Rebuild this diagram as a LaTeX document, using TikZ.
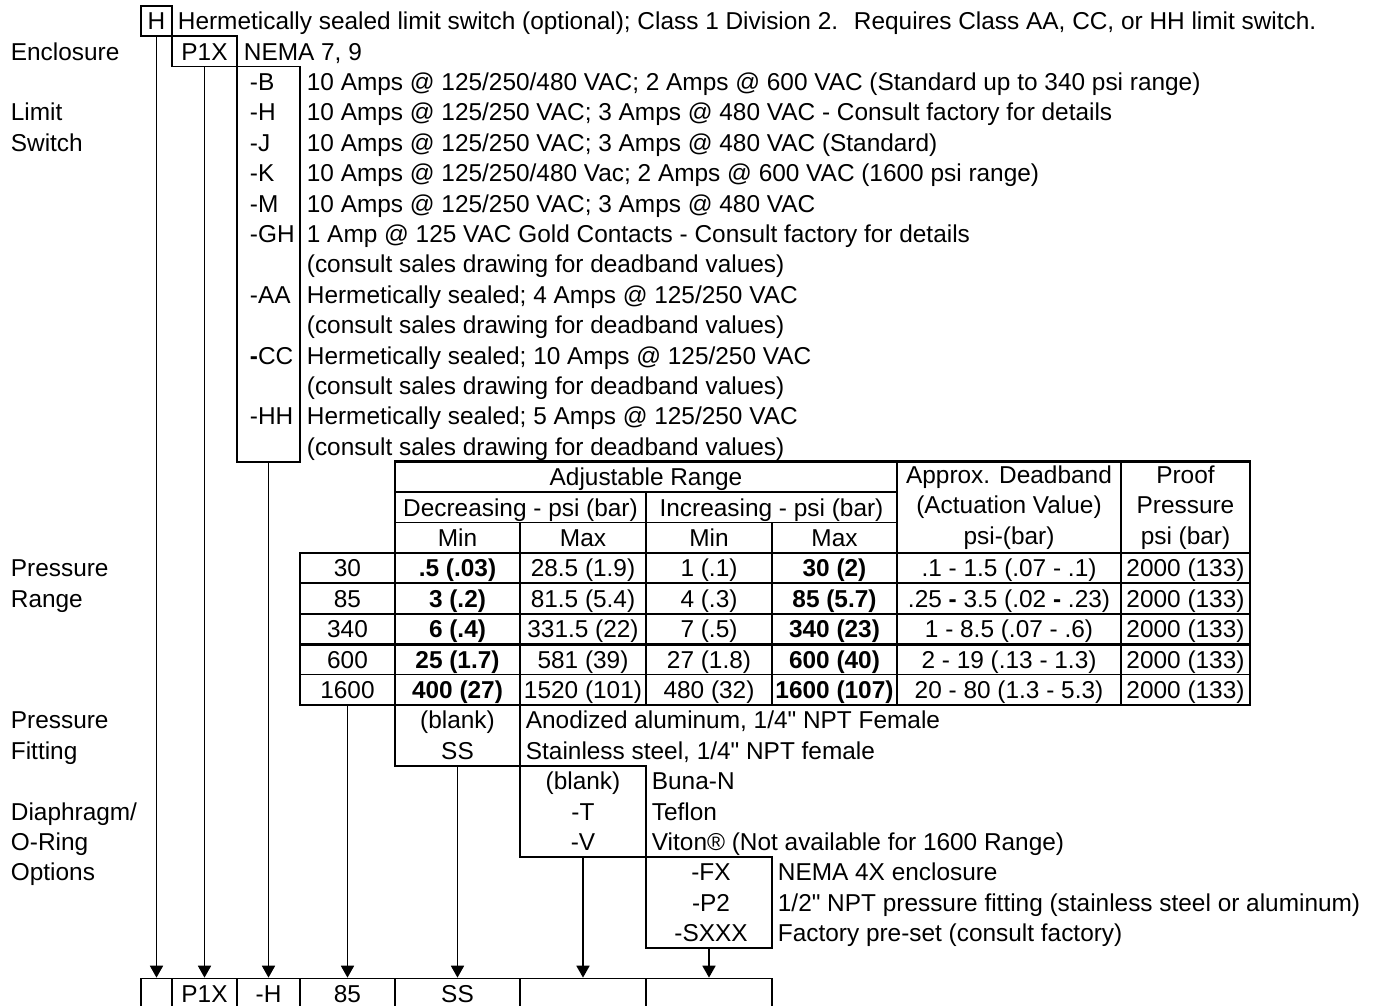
\documentclass[tikz,border=0pt]{standalone}
\usepackage{fontspec}
\setmainfont{Liberation Sans}
\usepackage{tikz}
\usetikzlibrary{arrows.meta}

\begin{document}
\begin{tikzpicture}[
    x=0.5pt, y=-15.2pt,
    font=\fontsize{12.2}{15.2}\selectfont,
    line width=0.9pt,
    cell/.style={draw, inner sep=0pt, minimum height=15.2pt, text height=8.7pt, text depth=0pt},
    mcell/.style={draw, inner sep=0pt, align=center},
    wide/.style={minimum width=#1*0.5pt},
    tall/.style={minimum height=#1*15.2pt},
    txt/.style={anchor=west, inner sep=0pt, text height=8.7pt, text depth=0pt},
    code/.style={inner sep=0pt, text height=8.7pt, text depth=0pt},
    heavy/.style={line width=1.4pt},
    arrow/.style={-{Triangle[length=6pt, width=6.5pt]}}
]
\useasboundingbox (0,-0.19) rectangle (1373,32.9);

% row titles
\node[txt] (tEncl) at (10,1.5) {Enclosure};
\node[txt] (tLimit) at (10,3.5) {Limit};
\node[txt] (tSwitch) at (10,4.5) {Switch};
\node[txt] (tPress) at (10,18.5) {Pressure};
\node[txt] (tRange) at (10,19.5) {Range};
\node[txt] (tPress2) at (10,23.5) {Pressure};
\node[txt] (tFitting) at (10,24.5) {Fitting};
\node[txt] (tDiaph) at (10,26.5) {Diaphragm/};
\node[txt] (tORing) at (10,27.5) {O-Ring};
\node[txt] (tOptions) at (10,28.5) {Options};

% hermetic seal and enclosure
\node[cell, wide=31] (herm) at (156.5,0.5) {H};
\node[txt] (hermText) at (177,0.5) {Hermetically sealed limit switch (optional); Class 1 Division 2.~ Requires Class AA, CC, or HH limit switch.};
\node[cell, wide=65] (encl) at (204.5,1.5) {P1X};
\node[txt] (enclText) at (243,1.5) {NEMA 7, 9};

% limit switch
\node[cell, wide=63, tall=13] (limit) at (268.5,8.5) {};
\node[txt] (swB) at (249,2.5) {-B};
\node[txt] (swH) at (249,3.5) {-H};
\node[txt] (swJ) at (249,4.5) {-J};
\node[txt] (swK) at (249,5.5) {-K};
\node[txt] (swM) at (249,6.5) {-M};
\node[txt] (swGH) at (249,7.5) {-GH};
\node[txt] (swAA) at (249,9.5) {-AA};
\node[txt] (swCC) at (249,11.5) {\textbf{-}CC};
\node[txt] (swHH) at (249,13.5) {-HH};
\node[txt] (dB) at (306,2.5) {10 Amps @ 125/250/480 VAC; 2 Amps @ 600 VAC (Standard up to 340 psi range)};
\node[txt] (dH) at (306,3.5) {10 Amps @ 125/250 VAC; 3 Amps @ 480 VAC - Consult factory for details};
\node[txt] (dJ) at (306,4.5) {10 Amps @ 125/250 VAC; 3 Amps @ 480 VAC (Standard)};
\node[txt] (dK) at (306,5.5) {10 Amps @ 125/250/480 Vac; 2 Amps @ 600 VAC (1600 psi range)};
\node[txt] (dM) at (306,6.5) {10 Amps @ 125/250 VAC; 3 Amps @ 480 VAC};
\node[txt] (dGH) at (306,7.5) {1 Amp @ 125 VAC Gold Contacts - Consult factory for details};
\node[txt] (dGH2) at (306,8.5) {(consult sales drawing for deadband values)};
\node[txt] (dAA) at (306,9.5) {Hermetically sealed; 4 Amps @ 125/250 VAC};
\node[txt] (dAA2) at (306,10.5) {(consult sales drawing for deadband values)};
\node[txt] (dCC) at (306,11.5) {Hermetically sealed; 10 Amps @ 125/250 VAC};
\node[txt] (dCC2) at (306,12.5) {(consult sales drawing for deadband values)};
\node[txt] (dHH) at (306,13.5) {Hermetically sealed; 5 Amps @ 125/250 VAC};
\node[txt] (dHH2) at (306,14.5) {(consult sales drawing for deadband values)};

% pressure range table
\node[cell, wide=502] (adj) at (646,15.5) {Adjustable Range};
\node[cell, wide=251] (dec) at (520.5,16.5) {Decreasing - psi (bar)};
\node[cell, wide=251] (inc) at (771.5,16.5) {Increasing - psi (bar)};
\node[cell, wide=125] (decMin) at (457.5,17.5) {Min};
\node[cell, wide=126] (decMax) at (583,17.5) {Max};
\node[cell, wide=126] (incMin) at (709,17.5) {Min};
\node[cell, wide=125] (incMax) at (834.5,17.5) {Max};
\node[mcell, wide=224, tall=3] (band) at (1009,16.5) {Approx. Deadband\\(Actuation Value)\\psi-(bar)};
\node[mcell, wide=129, tall=3] (proof) at (1185.5,16.5) {Proof\\Pressure\\psi (bar)};

\foreach \rng/\dmin/\dmax/\imin/\imax/\dband [count=\rw from 18] in {
    30/\textbf{.5 (.03)}/28.5 (1.9)/1 (.1)/\textbf{30 (2)}/.1 - 1.5 (.07 - .1),
    85/\textbf{3 (.2)}/81.5 (5.4)/4 (.3)/\textbf{85 (5.7)}/.25 \textbf{-} 3.5 (.02 \textbf{-} .23),
    340/\textbf{6 (.4)}/331.5 (22)/7 (.5)/\textbf{340 (23)}/1 - 8.5 (.07 - .6),
    600/\textbf{25 (1.7)}/581 (39)/27 (1.8)/\textbf{600 (40)}/2 - 19 (.13 - 1.3),
    1600/\textbf{400 (27)}/1520 (101)/480 (32)/\textbf{1600 (107)}/20 - 80 (1.3 - 5.3)}
{
    \node[cell, wide=95] (rng\rw) at (347.5,\rw+0.5) {\rng};
    \node[cell, wide=125] (dmin\rw) at (457.5,\rw+0.5) {\dmin};
    \node[cell, wide=126] (dmax\rw) at (583,\rw+0.5) {\dmax};
    \node[cell, wide=126] (imin\rw) at (709,\rw+0.5) {\imin};
    \node[cell, wide=125] (imax\rw) at (834.5,\rw+0.5) {\imax};
    \node[cell, wide=224] (band\rw) at (1009,\rw+0.5) {\dband};
    \node[cell, wide=129] (proof\rw) at (1185.5,\rw+0.5) {2000 (133)};
}
\draw[heavy] (300,18) rectangle (1250,23);
\draw[heavy] (300,21) -- (1250,21);
\draw[heavy] (395,18) -- (395,15) -- (1250,15) -- (1250,18);

% pressure fitting
\node[cell, wide=125, tall=2] (fitting) at (457.5,24) {};
\node[code] (fitBlank) at (457.5,23.5) {(blank)};
\node[code] (fitSS) at (457.5,24.5) {SS};
\node[txt] (fitA) at (525,23.5) {Anodized aluminum, 1/4\textquotedbl{} NPT Female};
\node[txt] (fitS) at (525,24.5) {Stainless steel, 1/4\textquotedbl{} NPT female};

% diaphragm / o-ring
\node[cell, wide=126, tall=3] (ring) at (583,26.5) {};
\node[code] (ringBlank) at (583,25.5) {(blank)};
\node[code] (ringT) at (583,26.5) {-T};
\node[code] (ringV) at (583,27.5) {-V};
\node[txt] (ringN) at (651,25.5) {Buna-N};
\node[txt] (ringTef) at (651,26.5) {Teflon};
\node[txt] (ringVit) at (651,27.5) {Viton® (Not available for 1600 Range)};

% options
\node[cell, wide=126, tall=3] (opt) at (709,29.5) {};
\node[code] (optFX) at (711,28.5) {-FX};
\node[code] (optP2) at (711,29.5) {-P2};
\node[code] (optS) at (711,30.5) {-SXXX};
\node[txt] (optFXd) at (777,28.5) {NEMA 4X enclosure};
\node[txt] (optP2d) at (777,29.5) {1/2\textquotedbl{} NPT pressure fitting (stainless steel or aluminum)};
\node[txt] (optSd) at (777,30.5) {Factory pre-set (consult factory)};

% model number
\node[cell, wide=31] (outH) at (156.5,32.5) {};
\node[cell, wide=65] (outEncl) at (204.5,32.5) {P1X};
\node[cell, wide=63] (outSwitch) at (268.5,32.5) {-H};
\node[cell, wide=95] (outRange) at (347.5,32.5) {85};
\node[cell, wide=125] (outFit) at (457.5,32.5) {SS};
\node[cell, wide=126] (outRing) at (583,32.5) {};
\node[cell, wide=126] (outOpt) at (709,32.5) {};

\draw[arrow] (herm) -- (outH);
\draw[arrow] (encl) -- (outEncl);
\draw[arrow] (limit) -- (outSwitch);
\draw[arrow] (rng22) -- (outRange);
\draw[arrow] (fitting) -- (outFit);
\draw[arrow] (ring) -- (outRing);
\draw[arrow] (opt) -- (outOpt);

\end{tikzpicture}
\end{document}
